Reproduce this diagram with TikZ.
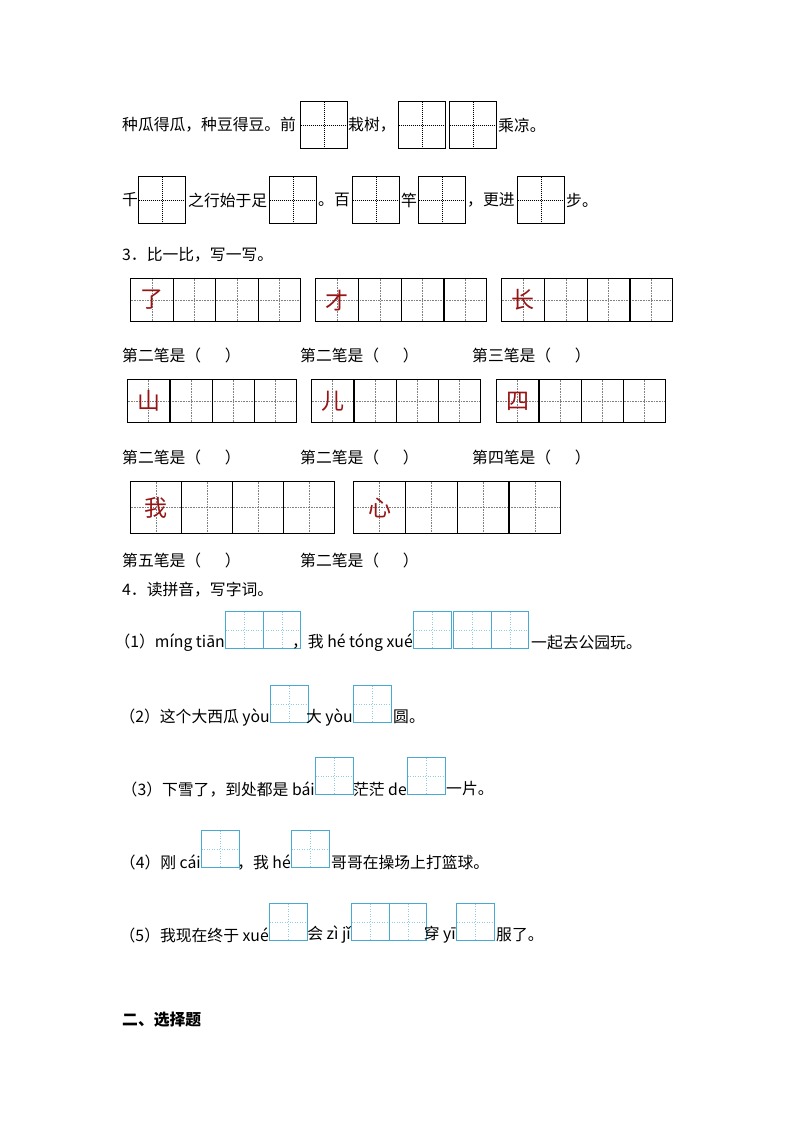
\documentclass[tikz,border=0pt]{standalone}
\usepackage{fontspec}
\setmainfont{Noto Sans CJK SC}
\definecolor{boxblue}{RGB}{70,170,210}
\definecolor{inkred}{RGB}{150,20,20}
\tikzset{
  txt/.style={anchor=west, inner sep=0pt, font=\fontsize{15.8}{17}\selectfont},
  txe/.style={anchor=east, inner sep=0pt, font=\fontsize{15.8}{17}\selectfont},
  cross/.style={path picture={
      \draw[#1] (path picture bounding box.north) -- (path picture bounding box.south);
      \draw[#1] (path picture bounding box.west) -- (path picture bounding box.east);}},
  tzg/.style={draw=black, line width=1pt, inner sep=0pt, minimum size=47pt, anchor=north west,
      cross={densely dotted, line width=1pt}},
  cell/.style={draw=black, line width=1.2pt, inner sep=0pt, anchor=north west,
      cross={densely dotted, gray, line width=0.6pt}},
  pyg/.style={draw=boxblue, line width=1.3pt, inner sep=0pt, minimum width=37.5pt, minimum height=37pt,
      anchor=north west, cross={dotted, boxblue!60, line width=0.5pt}},
  redch/.style={text=inkred, font=\fontsize{23}{25}\selectfont}
}
\begin{document}
\begin{tikzpicture}[x=1pt, y=-1pt]
    \useasboundingbox (0,0) rectangle (800,1132);

    % fill in poems
    \node[txt] (t1a) at (122,125) {种瓜得瓜，种豆得豆。前};
    \node[tzg] (b1a) at (300,101) {};
    \node[txt] (t1b) at (348,125) {栽树，};
    \node[tzg] (b1b) at (398,101) {};
    \node[tzg] (b1c) at (449,101) {};
    \node[txt] (t1c) at (498,125) {乘凉。};

    \node[txt] (t2a) at (122,200) {千};
    \node[tzg] (b2a) at (138,176) {};
    \node[txt] (t2b) at (188,200) {之行始于足};
    \node[tzg] (b2b) at (269,176) {};
    \node[txt] (t2c) at (318,200) {。百};
    \node[tzg] (b2c) at (352,176) {};
    \node[txt] (t2d) at (401,200) {竿};
    \node[tzg] (b2d) at (418,176) {};
    \node[txt] (t2e) at (467,200) {，更进};
    \node[tzg] (b2e) at (517,176) {};
    \node[txt] (t2f) at (566,200) {步。};

    % 3
    \node[txt] (q3) at (122,255) {3．比一比，写一写。};
    \foreach \name/\x/\y/\w/\h/\ch in {ga/130/278/42.5/43/了, gb/315/278/42.8/43/才, gc/501/278/42.8/43/长,
        gd/127/379/42.3/43/山, ge/311/379/42.3/43/儿, gf/496/379/42.3/43/四,
        gg/130/481/51/52/我, gh/353/481/51.8/52/心} {
      \foreach \i in {0,...,3}
        \node[cell, minimum width=\w pt, minimum height=\h pt] (\name\i) at (\x+\i*\w,\y) {};
      \node[redch] at (\name0.center) {\ch};
    }
    \node[txt] (l1a) at (122,355) {第二笔是（\hspace{1.5em}）};
    \node[txt] (l1b) at (300,355) {第二笔是（\hspace{1.5em}）};
    \node[txt] (l1c) at (472,355) {第三笔是（\hspace{1.5em}）};
    \node[txt] (l2a) at (122,457) {第二笔是（\hspace{1.5em}）};
    \node[txt] (l2b) at (300,457) {第二笔是（\hspace{1.5em}）};
    \node[txt] (l2c) at (472,457) {第四笔是（\hspace{1.5em}）};
    \node[txt] (l3a) at (122,560) {第五笔是（\hspace{1.5em}）};
    \node[txt] (l3b) at (300,560) {第二笔是（\hspace{1.5em}）};

    % 4
    \node[txt] (q4) at (122,590) {4．读拼音，写字词。};
    \node[pyg] (k1a) at (225,611) {};
    \node[pyg] (k1b) at (262.5,611) {};
    \node[txe] (p1a) at (k1a.west |- 0,643) {（1）míng tiān};
    \node[pyg] (k1c) at (413,611) {};
    \node[pyg] (k1d) at (453,611) {};
    \node[pyg] (k1e) at (490.5,611) {};
    \node[txe] (p1b) at (k1c.west |- 0,643) {，我 hé tóng xué};
    \node[txt] (p1c) at (531,643) {一起去公园玩。};

    \node[pyg] (k2a) at (270,685) {};
    \node[txe] (p2a) at (k2a.west |- 0,717) {（2）这个大西瓜 yòu};
    \node[pyg] (k2b) at (353,685) {};
    \node[txe] (p2b) at (k2b.west |- 0,717) {大 yòu};
    \node[txt] (p2c) at (393,717) {圆。};

    \node[pyg] (k3a) at (315,757) {};
    \node[txe] (p3a) at (k3a.west |- 0,789) {（3）下雪了，到处都是 bái};
    \node[pyg] (k3b) at (407,757) {};
    \node[txe] (p3b) at (k3b.west |- 0,789) {茫茫 de};
    \node[txt] (p3c) at (446,789) {一片。};

    \node[pyg] (k4a) at (201,830) {};
    \node[txe] (p4a) at (k4a.west |- 0,862) {（4）刚 cái};
    \node[pyg] (k4b) at (291,830) {};
    \node[txe] (p4b) at (k4b.west |- 0,862) {，我 hé};
    \node[txt] (p4c) at (331,862) {哥哥在操场上打篮球。};

    \node[pyg] (k5a) at (269,903) {};
    \node[txe] (p5a) at (k5a.west |- 0,935) {（5）我现在终于 xué};
    \node[pyg] (k5b) at (351,903) {};
    \node[pyg] (k5c) at (388.5,903) {};
    \node[txe] (p5b) at (k5b.west |- 0,935) {会 zì jǐ};
    \node[pyg] (k5d) at (456,903) {};
    \node[txe] (p5c) at (k5d.west |- 0,935) {穿 yī};
    \node[txt] (p5d) at (496,935) {服了。};

    \node[txt, font=\fontsize{15.8}{17}\selectfont\bfseries] (sec2) at (122,1020) {二、选择题};
\end{tikzpicture}
\end{document}
